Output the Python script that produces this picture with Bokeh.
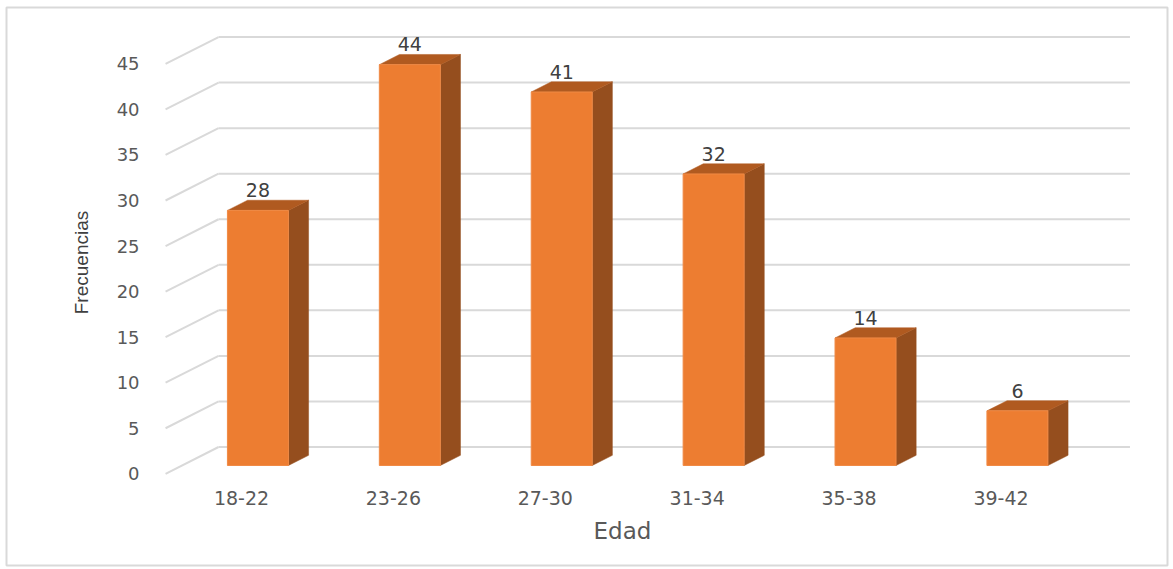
import numpy as np
from bokeh.plotting import figure
from bokeh.models import Range1d, FixedTicker, Label
from bokeh.embed import file_html
from bokeh.resources import INLINE
from bokeh.core.properties import value

# ---- data ----
categories = ["18-22", "23-26", "27-30", "31-34", "35-38", "39-42"]
frecuencias = [28, 44, 41, 32, 14, 6]
y_ticks = [0, 5, 10, 15, 20, 25, 30, 35, 40, 45]
x_title = "Edad"
y_title = "Frecuencias"

# ---- 3D style geometry (in data units) ----
DX = 0.349    # depth offset along x (category units)
DY = 2.942    # depth offset along y (value units)
F1, F2 = 0.31, 0.69   # bar front / back depth fraction
HW = 0.2008   # bar half width
FRONT = "#ED7D31"
TOP = "#B05A20"
SIDE = "#954E1E"
GRID = "#d9d9d9"
FONT = "DejaVu Sans"

xs = np.arange(len(categories), dtype=float)
vals = np.array(frecuencias, dtype=float)
x0, x1 = -0.5, len(categories) - 0.5

p = figure(width=1173, height=569,
           x_range=Range1d(-1.5471, 6.0962), y_range=Range1d(-10.066, 51.185),
           output_backend="svg", toolbar_location=None,
           min_border_left=6, min_border_right=6,
           min_border_top=7, min_border_bottom=4)
p.outline_line_color = "#d9d9d9"
p.outline_line_width = 2
p.xgrid.visible = False
p.ygrid.visible = False
p.background_fill_color = "white"
p.border_fill_color = "white"

# ---- walls gridlines ----
t = np.array(y_ticks, dtype=float)
p.segment(x0=[x0] * len(t), y0=t, x1=[x0 + DX] * len(t), y1=t + DY,
          line_color=GRID, line_width=2)
p.segment(x0=[x0 + DX] * len(t), y0=t + DY, x1=[x1 + DX] * len(t), y1=t + DY,
          line_color=GRID, line_width=2)

# ---- bars ----
fl = xs + F1 * DX - HW
fr = xs + F1 * DX + HW
fb = np.full_like(vals, F1 * DY)
ft = vals + F1 * DY
d = (F2 - F1)
top_xs = [[a, b, b + d * DX, a + d * DX] for a, b in zip(fl, fr)]
top_ys = [[h, h, h + d * DY, h + d * DY] for h in ft]
side_xs = [[b, b, b + d * DX, b + d * DX] for b in fr]
side_ys = [[lo, h, h + d * DY, lo + d * DY] for lo, h in zip(fb, ft)]

p.patches(side_xs, side_ys, fill_color=SIDE, line_color=SIDE, line_width=0.5)
p.patches(top_xs, top_ys, fill_color=TOP, line_color=TOP, line_width=0.5)
p.quad(left=fl, right=fr, bottom=fb, top=ft, fill_color=FRONT,
       line_color="#F08A45", line_width=1)

# ---- data labels ----
p.text(x=xs + F1 * DX, y=vals + F2 * DY, text=[str(v) for v in frecuencias],
       text_align="center", text_baseline="bottom", y_offset=-3,
       text_font=value(FONT), text_font_size="19px", text_color="#404040")

# ---- axes (placed on the front edge of the 3D floor) ----
p.yaxis.fixed_location = x0
p.yaxis.ticker = FixedTicker(ticks=y_ticks)
p.yaxis.axis_line_color = None
p.yaxis.major_tick_line_color = None
p.yaxis.minor_tick_line_color = None
p.yaxis.major_tick_out = 0
p.yaxis.major_tick_in = 0
p.yaxis.major_label_standoff = 26
p.yaxis.major_label_text_font = FONT
p.yaxis.major_label_text_font_size = "18px"
p.yaxis.major_label_text_color = "#595959"

p.xaxis.fixed_location = 0
p.xaxis.ticker = FixedTicker(ticks=list(range(len(categories))))
p.xaxis.major_label_overrides = {i: c for i, c in enumerate(categories)}
p.xaxis.axis_line_color = None
p.xaxis.major_tick_line_color = None
p.xaxis.minor_tick_line_color = None
p.xaxis.major_tick_out = 0
p.xaxis.major_tick_in = 0
p.xaxis.major_label_standoff = 17
p.xaxis.major_label_text_font = FONT
p.xaxis.major_label_text_font_size = "19px"
p.xaxis.major_label_text_color = "#595959"

# axis titles centred on the 3D plot area
p.add_layout(Label(x=(81 - 241) / 151.9, y=(473.3 - 262) / 9.11, text=y_title,
                   angle=np.pi / 2, text_align="center", text_baseline="middle",
                   text_font="Liberation Sans", text_font_size="19px",
                   text_color="#404040"))
p.add_layout(Label(x=(622 - 241) / 151.9, y=(473.3 - 531) / 9.11, text=x_title,
                   text_align="center", text_baseline="middle",
                   text_font=FONT, text_font_size="23px", text_color="#595959"))

open("out.html", "w").write(file_html(p, INLINE))
